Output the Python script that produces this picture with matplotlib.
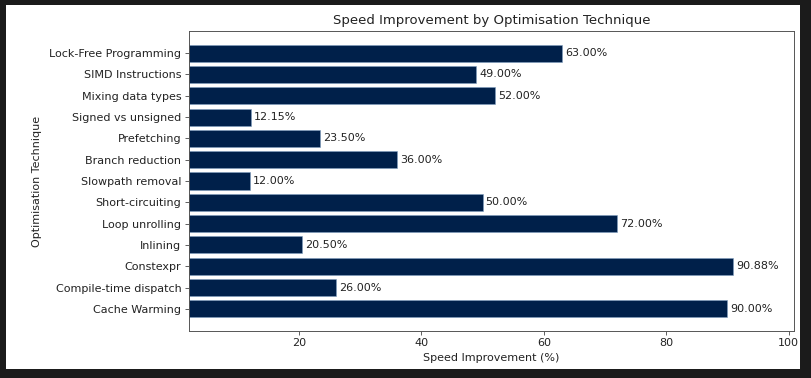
import matplotlib
matplotlib.use("Agg")
import matplotlib.pyplot as plt
from matplotlib.patches import Rectangle

techniques = ["Cache Warming", "Compile-time dispatch", "Constexpr", "Inlining",
              "Loop unrolling", "Short-circuiting", "Slowpath removal",
              "Branch reduction", "Prefetching", "Signed vs unsigned",
              "Mixing data types", "SIMD Instructions", "Lock-Free Programming"]
improvements = [90.00, 26.00, 90.88, 20.50, 72.00, 50.00, 12.00,
                36.00, 23.50, 12.15, 52.00, 49.00, 63.00]

W, H = 812, 378
fig = plt.figure(figsize=(W / 100, H / 100), dpi=100, facecolor="#1b1b1b")
fig.patches.append(Rectangle((6 / W, 1 - 369 / H), (800 - 6) / W, (369 - 5) / H,
                             transform=fig.transFigure, facecolor="white",
                             edgecolor="none", zorder=-10))
ax = fig.add_axes([188.8 / W, 1 - 331 / H, (794 - 188.8) / W, (331 - 31) / H])

bars = ax.barh(techniques, improvements, height=0.8, color="#00204a",
               edgecolor="#7f9fc0", linewidth=0.4)
for b, v in zip(bars, improvements):
    ax.text(b.get_width() + 0.5, b.get_y() + b.get_height() / 2, f"{v:.2f}%",
            va="center", ha="left", fontsize=8, color="#222222")

ax.set_xlim(min(improvements) - 10, max(improvements) + 10)
ax.set_title("Speed Improvement by Optimisation Technique", fontsize=9.5, color="#222222", pad=5)
ax.set_xlabel("Speed Improvement (%)", fontsize=8, color="#222222", labelpad=3)
ax.set_ylabel("Optimisation Technique", fontsize=8, color="#222222", labelpad=5)
ax.tick_params(labelsize=8, labelcolor="#222222", width=0.6, length=2.8, color="#444444", pad=2.5)
for s in ax.spines.values():
    s.set_linewidth(0.7)
    s.set_color("#555555")

fig.savefig("out.png", dpi=100, facecolor=fig.get_facecolor())
